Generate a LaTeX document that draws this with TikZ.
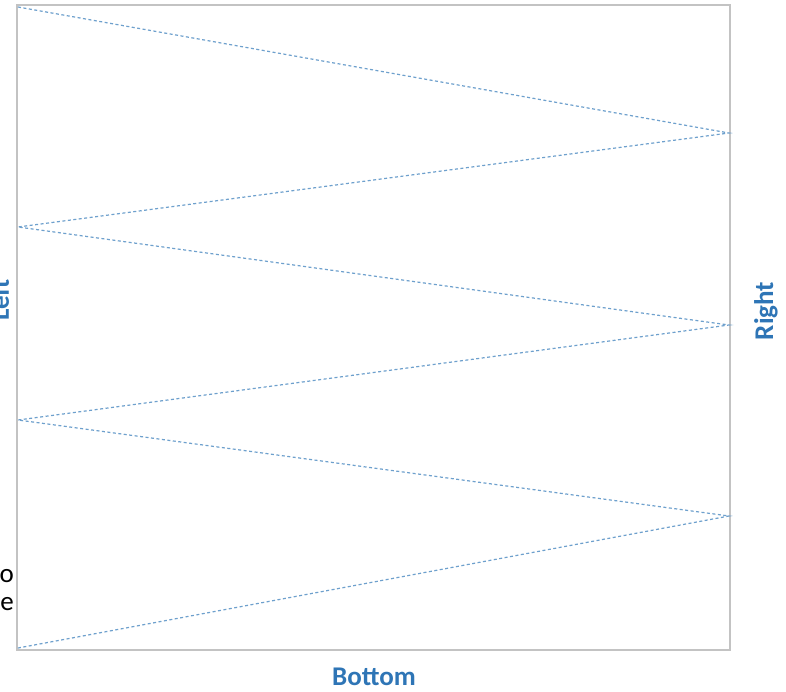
\documentclass[tikz,border=0pt]{standalone}
\usepackage{fontspec}
\setmainfont{Carlito}
\definecolor{lblue}{RGB}{46,117,182}
\definecolor{dline}{RGB}{110,160,205}
\definecolor{frame}{RGB}{195,195,195}
\begin{document}
\begin{tikzpicture}[x=1pt,y=-1pt,
  zig/.style={draw=dline,dash pattern=on 3pt off 2.5pt,line width=1.2pt},
  lab/.style={text=lblue,font=\fontsize{27}{30}\selectfont\bfseries,inner sep=0pt}]
\useasboundingbox[fill=white] (0,0) rectangle (786,691);
\draw[frame,line width=2pt] (17,5) rectangle (730,650);
\coordinate (l0) at (18,7);
\coordinate (r1) at (729,133);
\coordinate (l1) at (18,227);
\coordinate (r2) at (729,325);
\coordinate (l2) at (18,420);
\coordinate (r3) at (729,516);
\coordinate (l3) at (18,648);
\draw[zig] (l0) -- (r1) -- (l1) -- (r2) -- (l2) -- (r3) -- (l3);
\node[lab] (bottom) at (374,677) {Bottom};
\node[lab,rotate=90] (right) at (766,311) {Right};
\node[lab,rotate=90,anchor=north] (left) at (-10,300) {Left};
\node[anchor=east,inner sep=0pt,font=\fontsize{27}{28}\selectfont,align=right] (note) at (14,588) {Go to\\the line};
\end{tikzpicture}
\end{document}
